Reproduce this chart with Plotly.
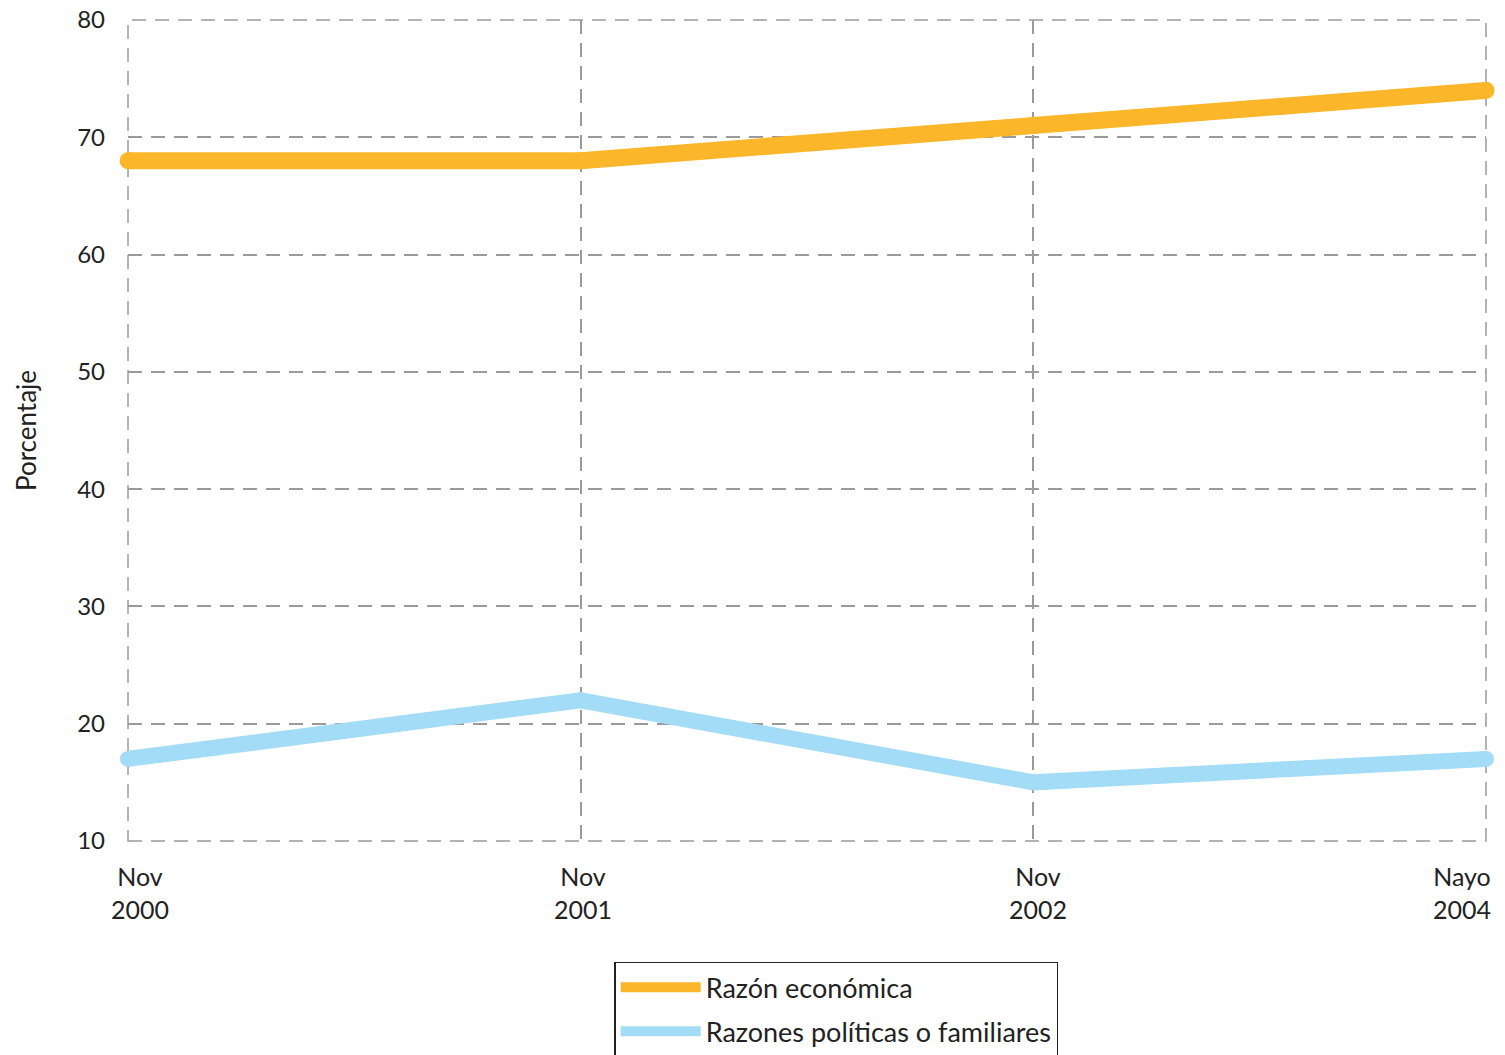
import plotly.graph_objects as go

periods = ["Nov<br>2000", "Nov<br>2001", "Nov<br>2002", "Nayo<br>2004"]
economica = [68, 68, 71, 74]
politicas = [17, 22, 15, 17]
series_names = ["Razón económica", "Razones políticas o familiares"]
series_colors = ["#FBB62A", "#A2DCF7"]
y_ticks = [10, 20, 30, 40, 50, 60, 70, 80]
y_tick_labels = ["10", "20", "30", "40", "50", "60", "70", "80"]

FONT = "Lato, 'Open Sans', sans-serif"
xs = list(range(len(periods)))
label_shift = [12, 2, 5, -24]  # horizontal offsets of the period labels (style)

fig = go.Figure()
for name, vals, col, w in zip(series_names, [economica, politicas], series_colors, [17, 16]):
    fig.add_trace(go.Scatter(
        x=xs, y=vals, name=name, mode="lines+markers", showlegend=False,
        line=dict(color=col, width=w),
        marker=dict(color=col, size=w, line=dict(width=0)),
        cliponaxis=False,
    ))
    fig.add_trace(go.Scatter(
        x=[None], y=[None], name=name, mode="lines", legendgroup=name,
        line=dict(color=col, width=16),
    ))

grid = dict(showgrid=True, gridcolor="#9a9a9a", gridwidth=1.5, griddash="14px,9px",
            zeroline=False, showline=False)

fig.add_shape(type="rect", xref="paper", yref="paper", x0=0, x1=1, y0=0, y1=1,
              line=dict(color="#9a9a9a", width=1.5, dash="14px,9px"), layer="below")

for xv, lab, sh in zip(xs, periods, label_shift):
    fig.add_annotation(x=xv, y=0, xref="x", yref="paper", text=lab, showarrow=False,
                       xanchor="center", yanchor="top", yshift=-18, xshift=sh,
                       font=dict(family=FONT, size=25, color="#222222"))

fig.update_layout(
    width=1505, height=1055,
    paper_bgcolor="white", plot_bgcolor="white",
    margin=dict(l=128, r=19, t=20, b=214, autoexpand=False),
    font=dict(family=FONT, size=24, color="#222222"),
    showlegend=True,
    legend=dict(
        x=0.358, y=-0.147, xanchor="left", yanchor="top",
        bordercolor="#222222", borderwidth=1.5, bgcolor="white",
        font=dict(family=FONT, size=27, color="#222222"),
        itemwidth=80, tracegroupgap=6,
    ),
    xaxis=dict(
        range=[0, 3], tickmode="array", tickvals=xs, showticklabels=False,
        ticks="", **grid,
    ),
    yaxis=dict(
        range=[10, 80], tickmode="array", tickvals=y_ticks, ticktext=y_tick_labels,
        ticks="", ticklabelstandoff=22, ticklabeloverflow="allow",
        title=dict(text="Porcentaje", font=dict(family=FONT, size=26, color="#222222"), standoff=33),
        **grid,
    ),
)

fig.write_html("out.html", config={"displayModeBar": False},
               post_script="document.body.style.margin='0';")
